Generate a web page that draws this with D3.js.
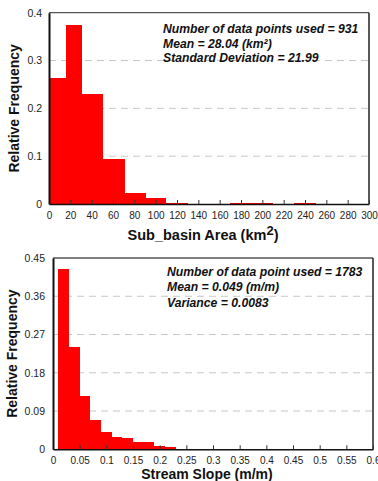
<!DOCTYPE html>
<html>
<head>
<meta charset="utf-8">
<script src="https://cdn.jsdelivr.net/npm/d3@7"></script>
<style>
  body { margin: 0; background: #fff; }
  svg { display: block; font-family: "Liberation Sans", Arial, sans-serif; }
</style>
</head>
<body>
<div id="chart"></div>
<script>
// sub-basin area histogram (bin edges in km2, relative frequency)
const areaX0 = [0, 16, 31, 51, 71, 91, 110, 130, 150, 170, 190, 210, 230];
const areaX1 = [16, 31, 51, 71, 91, 110, 130, 150, 170, 190, 210, 230, 250];
const areaFreq = [0.264, 0.375, 0.230, 0.094, 0.024, 0.013, 0.003, 0.001, 0.001, 0.002, 0.002, 0.001, 0.002];
const areaXTicks = d3.range(0, 301, 20);
const areaYTicks = [0, 0.1, 0.2, 0.3, 0.4];
const areaNotes = ["Number of data points used = 931", "Mean  = 28.04 (km\u00B2)", "Standard Deviation = 21.99"];

// stream slope histogram (m/m)
const slopeX0 = [0.01, 0.03, 0.05, 0.07, 0.09, 0.11, 0.13, 0.15, 0.17, 0.19, 0.21, 0.23, 0.25, 0.54];
const slopeX1 = [0.03, 0.05, 0.07, 0.09, 0.11, 0.13, 0.15, 0.17, 0.19, 0.21, 0.23, 0.25, 0.27, 0.56];
const slopeFreq = [0.424, 0.240, 0.126, 0.069, 0.040, 0.030, 0.027, 0.018, 0.018, 0.0085, 0.0054, 0.0015, 0.0013, 0.0012];
const slopeXTicks = ["0", "0.05", "0.1", "0.15", "0.2", "0.25", "0.3", "0.35", "0.4", "0.45", "0.5", "0.55", "0.6"];
const slopeYTicks = ["0", "0.09", "0.18", "0.27", "0.36", "0.45"];
const slopeNotes = ["Number of data point used = 1783", "Mean = 0.049 (m/m)", "Variance = 0.0083"];

const svg = d3.select("#chart").append("svg")
  .attr("width", 378)
  .attr("height", 481);

function drawHist(opt) {
  const x = d3.scaleLinear().domain(opt.xDomain).range([opt.left, opt.right]);
  const y = d3.scaleLinear().domain(opt.yDomain).range([opt.bottom, opt.top]);
  const g = svg.append("g");

  // dashed grid
  g.append("g").selectAll("line")
    .data(opt.yTicks.filter(d => d > 0 && d < opt.yDomain[1]))
    .enter().append("line")
    .attr("x1", opt.left).attr("x2", opt.right)
    .attr("y1", d => y(d)).attr("y2", d => y(d))
    .attr("stroke", "#c8c8c8")
    .attr("stroke-width", 1)
    .attr("stroke-dasharray", "7,5");

  // bars
  const bins = opt.x0.map((d, i) => ({ x0: d, x1: opt.x1[i], f: opt.freq[i] }));
  g.append("g").selectAll("rect")
    .data(bins)
    .enter().append("rect")
    .attr("x", d => x(d.x0))
    .attr("width", d => x(d.x1) - x(d.x0))
    .attr("y", d => y(d.f))
    .attr("height", d => Math.max(1.2, y(0) - y(d.f)))
    .attr("fill", "#ff0000")
    .attr("shape-rendering", "crispEdges");

  // frame
  g.append("line").attr("x1", opt.left).attr("x2", opt.right).attr("y1", opt.top).attr("y2", opt.top)
    .attr("stroke", "#555").attr("stroke-width", 1.3);
  g.append("line").attr("x1", opt.right).attr("x2", opt.right).attr("y1", opt.top).attr("y2", opt.bottom)
    .attr("stroke", "#222").attr("stroke-width", 1.5);

  // x axis, ticks point inward
  const xAxis = g.append("g")
    .attr("transform", "translate(0," + opt.bottom + ")")
    .call(d3.axisBottom(x).tickValues(opt.xTicks).tickSize(-4).tickSizeOuter(0).tickPadding(opt.xPad)
      .tickFormat(opt.xFormat));
  xAxis.select(".domain").attr("stroke", "#111").attr("stroke-width", 1.6);
  xAxis.selectAll(".tick line").attr("stroke", "#333");
  xAxis.selectAll("text").attr("font-size", "10px").attr("fill", "#222");

  const yAxis = g.append("g")
    .attr("transform", "translate(" + opt.left + ",0)")
    .call(d3.axisLeft(y).tickValues(opt.yTicks).tickSize(0).tickPadding(opt.yPad)
      .tickFormat(opt.yFormat));
  yAxis.select(".domain").attr("stroke", "#111").attr("stroke-width", 2);
  yAxis.selectAll("text").attr("font-size", "10.5px").attr("fill", "#222");

  // axis titles
  svg.append("text")
    .attr("transform", "translate(" + opt.yTitleX + "," + ((opt.top + opt.bottom) / 2) + ") rotate(-90)")
    .attr("text-anchor", "middle")
    .attr("dy", "0.35em")
    .attr("font-size", "14px")
    .attr("font-weight", "bold")
    .attr("fill", "#111")
    .text("Relative Frequency");

  const xt = svg.append("text")
    .attr("x", opt.xTitleX)
    .attr("y", opt.xTitleY)
    .attr("text-anchor", "middle")
    .attr("font-size", opt.xTitleSize)
    .attr("font-weight", "bold")
    .attr("fill", "#111");
  opt.xTitle(xt);

  // stats box
  svg.append("g").selectAll("text")
    .data(opt.notes)
    .enter().append("text")
    .attr("x", opt.noteX)
    .attr("y", (d, i) => opt.noteY + i * opt.noteStep)
    .attr("font-size", "12.2px")
    .attr("font-weight", "bold")
    .attr("font-style", "italic")
    .attr("fill", "#111")
    .text(d => d);
}

drawHist({
  left: 49, right: 369, top: 12.7, bottom: 204,
  xDomain: [0, 300], yDomain: [0, 0.4],
  x0: areaX0, x1: areaX1, freq: areaFreq,
  xTicks: areaXTicks, yTicks: areaYTicks,
  xFormat: d3.format("d"), yFormat: d => d === 0 ? "0" : d3.format(".1f")(d),
  xPad: 8, yPad: 7,
  yTitleX: 14,
  xTitleX: 203, xTitleY: 240, xTitleSize: "14.5px",
  xTitle: t => {
    t.append("tspan").text("Sub_basin Area (km");
    t.append("tspan").attr("dy", "-5").attr("font-size", "13px").text("2");
    t.append("tspan").attr("dy", "5").text(")");
  },
  notes: areaNotes, noteX: 163, noteY: 33, noteStep: 14.5
});

drawHist({
  left: 53, right: 373, top: 258, bottom: 449.3,
  xDomain: [0, 0.6], yDomain: [0, 0.45],
  x0: slopeX0, x1: slopeX1, freq: slopeFreq,
  xTicks: slopeXTicks.map(Number), yTicks: slopeYTicks.map(Number),
  xFormat: d => slopeXTicks[Math.round(d / 0.05)],
  yFormat: d => slopeYTicks[Math.round(d / 0.09)],
  xPad: 7.5, yPad: 8,
  yTitleX: 12,
  xTitleX: 207, xTitleY: 478.5, xTitleSize: "14px",
  xTitle: t => t.text("Stream Slope (m/m)"),
  notes: slopeNotes, noteX: 167, noteY: 276, noteStep: 15.3
});
</script>
</body>
</html>
